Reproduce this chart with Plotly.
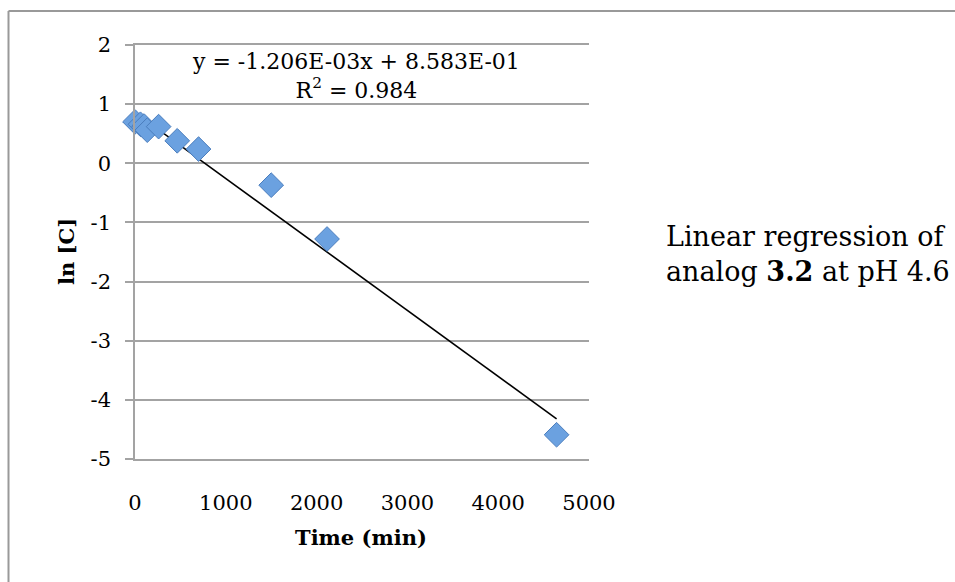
import plotly.graph_objects as go

# Data
time_min = [0, 60, 100, 135, 260, 465, 700, 1500, 2115, 4643]
ln_c = [0.70, 0.66, 0.63, 0.56, 0.62, 0.38, 0.24, -0.37, -1.28, -4.59]
trend_x = [0, 4643]
trend_y = [0.858, -4.32]
x_ticks = [0, 1000, 2000, 3000, 4000, 5000]
x_tick_text = ["0", "1000", "2000", "3000", "4000", "5000"]
y_ticks = [2, 1, 0, -1, -2, -3, -4, -5]
y_tick_text = ["2", "1", "0", "-1", "-2", "-3", "-4", "-5"]

W, H = 955, 582
ML, MR, MT, MB = 135, 366, 45, 123
PW, PH = W - ML - MR, H - MT - MB


def px_x(p):
    return (p - ML) / PW


def px_y(p):
    return (H - MB - p) / PH


FONT = "DejaVu Serif"
GRID = "#a3a3a3"

fig = go.Figure()
fig.add_trace(go.Scatter(
    x=trend_x, y=trend_y, mode="lines",
    line=dict(color="black", width=1.6), showlegend=False, hoverinfo="skip"))
fig.add_trace(go.Scatter(
    x=time_min, y=ln_c, mode="markers", cliponaxis=False,
    marker=dict(symbol="diamond", size=19, color="#6ba1e0",
                line=dict(color="#4a7dbd", width=1)),
    showlegend=False))

fig.update_layout(
    width=W, height=H,
    margin=dict(l=ML, r=MR, t=MT, b=MB, pad=0),
    paper_bgcolor="white", plot_bgcolor="white",
    font=dict(family=FONT, color="black", size=21),
    xaxis=dict(range=[0, 5000], tickvals=x_ticks, ticktext=x_tick_text,
               showgrid=False, zeroline=False, showline=True, mirror=True,
               linecolor=GRID, linewidth=1.5,
               ticks="outside", ticklen=24, tickcolor="rgba(0,0,0,0)",
               tickfont=dict(size=21, family=FONT)),
    yaxis=dict(range=[-5, 2], tickvals=y_ticks, ticktext=y_tick_text,
               showgrid=True, gridcolor=GRID,
               gridwidth=1.5, zeroline=False, showline=True, linecolor=GRID,
               linewidth=1.5, ticks="outside", ticklen=8, tickcolor=GRID,
               tickwidth=1.5, ticklabelstandoff=10,
               tickfont=dict(size=21, family=FONT)),
    annotations=[
        dict(xref="paper", yref="paper", x=px_x(361), y=px_y(537),
             text="<b>Time (min)</b>", showarrow=False,
             xanchor="center", yanchor="middle", font=dict(size=21, family=FONT)),
        dict(xref="paper", yref="paper", x=px_x(66), y=px_y(252),
             text="<b>ln [C]</b>", showarrow=False, textangle=-90,
             xanchor="center", yanchor="middle", font=dict(size=21, family=FONT)),
        dict(xref="paper", yref="paper", x=px_x(356), y=px_y(76),
             text="y = -1.206E-03x + 8.583E-01<br>R<sup>2</sup> = 0.984",
             showarrow=False, align="center", xanchor="center", yanchor="middle",
             font=dict(size=22, family=FONT)),
        dict(xref="paper", yref="paper", x=px_x(664), y=px_y(254),
             text="Linear regression of<br>analog <b>3.2</b> at pH 4.6",
             showarrow=False, align="left", xanchor="left", yanchor="middle",
             font=dict(size=27, family=FONT)),
    ],
    shapes=[
        dict(type="line", xref="paper", yref="paper", x0=px_x(8.5), x1=px_x(W),
             y0=px_y(11), y1=px_y(11), line=dict(color="#999999", width=2)),
        dict(type="line", xref="paper", yref="paper", x0=px_x(8.5), x1=px_x(8.5),
             y0=px_y(11), y1=px_y(H), line=dict(color="#999999", width=2)),
    ],
)

fig.write_html("out.html")
